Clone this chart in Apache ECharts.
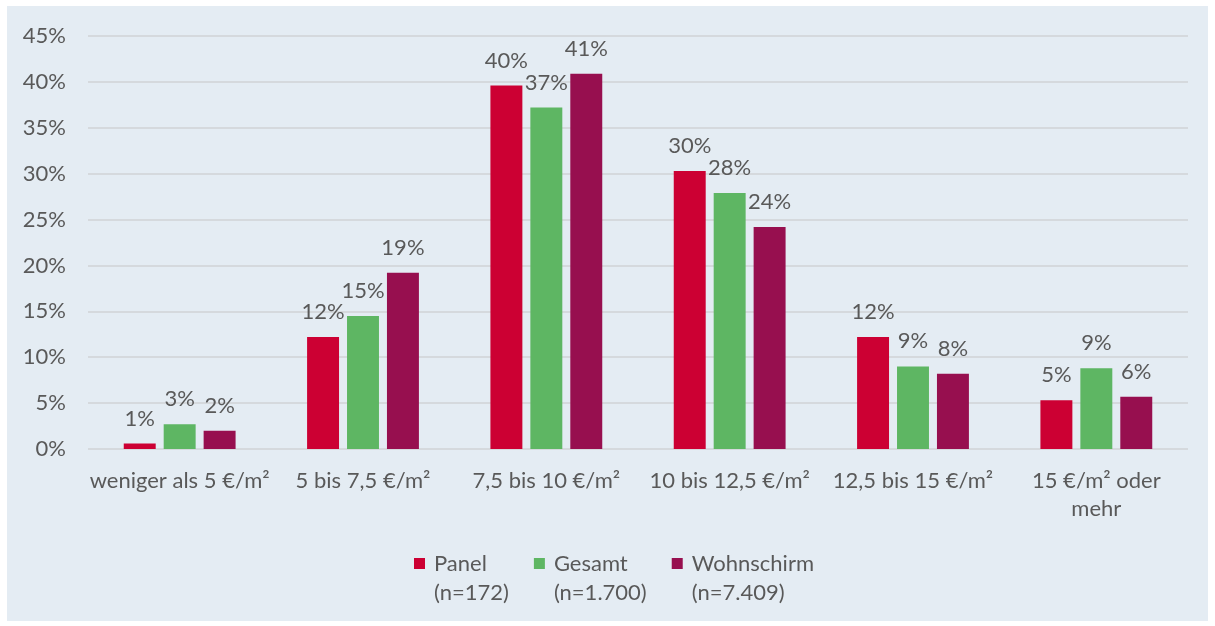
<!DOCTYPE html>
<html>
<head>
<meta charset="utf-8">
<script src="https://cdn.jsdelivr.net/npm/echarts@6/dist/echarts.min.js"></script>
<style>
  html, body { margin: 0; padding: 0; background: #ffffff; }
  #chart { position: absolute; left: 7px; top: 6px; width: 1201px; height: 615px; }
</style>
</head>
<body>
<div id="chart"></div>
<script>
// Price bands (net cold rent per m²)
const categories = [
  'weniger als 5 €/m²',
  '5 bis 7,5 €/m²',
  '7,5 bis 10 €/m²',
  '10 bis 12,5 €/m²',
  '12,5 bis 15 €/m²',
  '15 €/m² oder\nmehr'
];

// Share of respondents per band, in percent
const panel      = [0.6, 12.2, 39.6, 30.3, 12.2, 5.3];
const gesamt     = [2.7, 14.5, 37.2, 27.9, 9.0, 8.8];
const wohnschirm = [2.0, 19.2, 40.9, 24.2, 8.2, 5.7];

const seriesNames = ['Panel', 'Gesamt', 'Wohnschirm'];
const sampleSizes = ['(n=172)', '(n=1.700)', '(n=7.409)'];
const colors = ['#cc0033', '#5eb663', '#970f4f'];

const yTicks = [0, 5, 10, 15, 20, 25, 30, 35, 40, 45];

const FONT = 'Lato, "Open Sans", sans-serif';
const TEXT = '#595959';
const FS = 22;

const chart = echarts.init(document.getElementById('chart'), null, { renderer: 'canvas' });

const seriesData = [panel, gesamt, wohnschirm];

chart.setOption({
  backgroundColor: '#e4ecf3',
  animation: false,
  textStyle: { fontFamily: FONT },
  grid: { left: 81, right: 20, top: 30, bottom: 172, containLabel: false },
  xAxis: {
    type: 'category',
    data: categories,
    axisLine: { show: false },
    axisTick: { show: false },
    axisLabel: {
      color: TEXT, fontSize: FS, fontFamily: FONT,
      lineHeight: 28, margin: 18, interval: 0
    }
  },
  yAxis: {
    type: 'value',
    min: yTicks[0],
    max: yTicks[yTicks.length - 1],
    interval: 5,
    axisLine: { show: false },
    axisTick: { show: false },
    splitLine: { lineStyle: { color: '#d5d9dd', width: 2 } },
    axisLabel: {
      color: TEXT, fontSize: FS, fontFamily: FONT, margin: 22,
      formatter: v => v + '%'
    }
  },
  legend: {
    left: 407,
    top: 514,
    padding: 0,
    itemWidth: 11,
    itemHeight: 11,
    itemGap: 25,
    icon: 'rect',
    data: seriesNames,
    // blank first line keeps the marker level with the series name
    formatter: name => ' \n' + name + '\n' + sampleSizes[seriesNames.indexOf(name)],
    textStyle: {
      color: TEXT, fontSize: FS, fontFamily: FONT,
      lineHeight: 29, padding: [0, 0, 0, 4]
    }
  },
  series: seriesNames.map((name, i) => ({
    name,
    type: 'bar',
    data: seriesData[i],
    barGap: '25%',
    barCategoryGap: '39%',
    itemStyle: { color: colors[i] },
    label: {
      show: true,
      position: 'top',
      distance: 14,
      color: TEXT,
      fontSize: FS,
      fontFamily: FONT,
      formatter: p => Math.round(p.value) + '%'
    }
  }))
});
</script>
</body>
</html>
